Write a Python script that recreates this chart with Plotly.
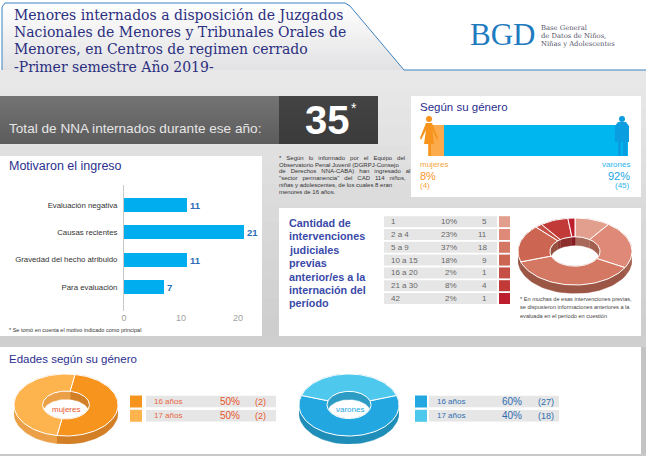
import math
import plotly.graph_objects as go

W, H = 646, 456

motivos = ["Evaluación negativa", "Causas recientes", "Gravedad del hecho atribuido", "Para evaluación"]
motivos_val = [11, 21, 11, 7]

genero_pct = [8, 92]
genero_n = [4, 45]

interv_rangos = ["1", "2 a 4", "5 a 9", "10 a 15", "16 a 20", "21 a 30", "42"]
interv_pct = [10, 23, 37, 18, 2, 8, 2]
interv_n = [5, 11, 18, 9, 1, 4, 1]
interv_col = ["#E39F8E", "#DF8A78", "#D47763", "#CC6653", "#C54F44", "#C23A38", "#BD1E2D"]
interv_wall = ["#A8685A", "#A3604F", "#9C5646", "#96503F", "#8F3E34", "#8C2F2C", "#861B24"]

edades = ["16 años", "17 años"]
muj_pct = [50, 50]
muj_n = [2, 2]
muj_col = ["#F7941E", "#FDB44E"]
muj_wall = ["#D27F26", "#EBA048"]
var_pct = [60, 40]
var_n = [27, 18]
var_col = ["#22A7E0", "#4FC8EE"]
var_wall = ["#1E8DB8", "#2C9CC4"]

NAVY = "#2B2F8F"
SANS = "Liberation Sans"
SERIF = "DejaVu Serif"


def px(x):
    return x / W


def py(y):
    return 1 - y / H


fig = go.Figure()
shapes = []
notes = []


def rect(x0, y0, x1, y1, color):
    shapes.append(dict(type="rect", xref="paper", yref="paper", x0=px(x0), x1=px(x1),
                       y0=py(y0), y1=py(y1), fillcolor=color, line_width=0, layer="below"))


def text(x, y, s, size, color, anchor="left", font=SANS):
    # annotations sit about 1.5px inside their anchor
    nudge = {"left": -1.5, "right": 1.5, "center": 0}[anchor]
    notes.append(dict(xref="paper", yref="paper", x=px(x + nudge), y=py(y), text=s, showarrow=False,
                      xanchor=anchor, yanchor="middle", borderpad=0,
                      font=dict(size=size, color=color, family=font)))


def gradient(xs, ys, top, bottom):
    # pixel polygon on the base axes, filled with a vertical gradient
    fig.add_trace(go.Scatter(x=xs, y=ys, mode="lines", fill="toself", hoverinfo="skip",
                             line=dict(color="rgba(0,0,0,0)", width=0),
                             fillgradient=dict(type="vertical", colorscale=[[0, bottom], [1, top]]),
                             xaxis="x", yaxis="y"))


def arc(a0, a1, r):
    n = max(2, int(abs(a1 - a0) / 3) + 1)
    pts = [a0 + (a1 - a0) * i / (n - 1) for i in range(n)]
    return [r * math.sin(math.radians(a)) for a in pts], [r * math.cos(math.radians(a)) for a in pts]


def donut(vals, cols, walls, ax, box, hole, depth, start=0):
    # box is the pixel extent of the top face, the axes keep radius 1 on both sides
    x0, y0, x1, y1 = box
    ry = (y1 - y0) / 2
    d = depth / ry
    xname, yname = "xaxis" + ax, "yaxis" + ax
    low = -1 - d
    fig.layout[xname] = dict(domain=[px(x0), px(x1)], range=[-1, 1], visible=False, fixedrange=True, anchor="y" + ax)
    fig.layout[yname] = dict(domain=[py(y1 + depth), py(y0)], range=[low, 1], visible=False, fixedrange=True, anchor="x" + ax)
    tot = sum(vals)
    angles = [start]
    for v in vals:
        angles.append(angles[-1] + v * 360 / tot)
    for i in range(len(vals)):
        for r in (1, hole):
            ox, oy = arc(angles[i], angles[i + 1], r)
            fig.add_trace(go.Scatter(x=ox + ox[::-1], y=oy + [v - d for v in oy[::-1]], mode="lines", fill="toself",
                                     fillcolor=walls[i], line=dict(color=walls[i], width=0.5), hoverinfo="skip",
                                     xaxis="x" + ax, yaxis="y" + ax, cliponaxis=False))
    for i in range(len(vals)):
        ox, oy = arc(angles[i], angles[i + 1], 1)
        ix, iy = arc(angles[i + 1], angles[i], hole)
        fig.add_trace(go.Scatter(x=ox + ix + ox[:1], y=oy + iy + oy[:1], mode="lines", fill="toself",
                                 fillcolor=cols[i], line=dict(color="white", width=1), hoverinfo="skip",
                                 xaxis="x" + ax, yaxis="y" + ax, cliponaxis=False))


# page background and panels, the grey darkens slowly towards the lower band
rect(0, 0, W, H, "#FFFFFF")
for i in range(14):
    g = 232 - i * 2
    rect(0, 70 + i * 19, W, 70 + (i + 1) * 19 + 1, f"rgb({g},{g},{g + 1})")
rect(0, 336, W, 347, "#CFCFCF")
rect(0, 347, 641, 454, "#FFFFFF")
rect(641, 347, W, H, "#C4C4C5")
rect(0, 454, W, H, "#C9C9CA")
rect(0, 156, 262, 336, "#FFFFFF")
rect(411, 96, 641, 197, "#FFFFFF")
rect(279, 208, 641, 336, "#FFFFFF")

# base pixel axes
fig.update_layout(
    xaxis=dict(domain=[0, 1], range=[0, W], visible=False, fixedrange=True),
    yaxis=dict(domain=[0, 1], range=[H, 0], visible=False, fixedrange=True),
)

# header tab and total band
gradient([2, 2, 5, 345, 350, 404, 2], [70, 7, 3, 3, 6, 70, 70], "#FFFFFF", "#E2E2E4")
fig.add_trace(go.Scatter(x=[2, 2, 5, 345, 350, 404, 646], y=[70, 7, 3, 3, 6, 70, 70], mode="lines", hoverinfo="skip",
                         line=dict(color="#3C82C0", width=1), xaxis="x", yaxis="y"))
gradient([0, 279, 279, 0], [96, 96, 144, 144], "#747474", "#5C5C5C")
gradient([279, 378, 378, 279], [96, 96, 144, 144], "#434343", "#3B3B3B")

for i, s in enumerate(["Menores internados a disposición de Juzgados",
                       "Nacionales de Menores y Tribunales Orales de",
                       "Menores, en Centros de regimen cerrado",
                       "-Primer semestre Año 2019-"]):
    text(14, 15 + i * 17.2, s, 14, "#2B2F7F", font=SERIF)

text(471, 35, "BGD", 31, "#1F7BC0", font="Liberation Serif")
for i, s in enumerate(["Base General", "de Datos de Niños,", "Niñas y Adolescentes"]):
    text(541, 27.5 + i * 8.4, s, 6.8, "#55556A", font=SERIF)

text(9, 128, "Total de NNA internados durante ese año:", 13.6, "#E6E6E6")
text(327, 120, "<b>35</b>", 40, "#FFFFFF", anchor="center")
text(351, 108, "*", 14, "#FFFFFF")

nota_lineas = ["* Según lo informado por el Equipo del",
               "Observatorio Penal Juvenil (DGRPJ-Consejo",
               "de Derechos NNA-CABA) han ingresado al",
               "\"sector permanencia\" del CAD 114 niños,",
               "niñas y adolescentes, de los cuales 8 eran",
               "menores de 16 años."]
# extra spaces per gap, the original column is justified
nota_extra = [2, 0, 2, 2, 0, 0]
for i, s in enumerate(nota_lineas):
    text(279, 157.7 + i * 6.8, s.replace(" ", " " + "&nbsp;" * nota_extra[i]), 6, "#333333")

# motivaron el ingreso
text(9, 166, "Motivaron el ingreso", 12.5, NAVY)
fig.add_trace(go.Bar(y=motivos, x=motivos_val, orientation="h", width=14 / 27.3, marker=dict(color="#00AEEF", line_width=0),
                     text=motivos_val, textposition="outside", cliponaxis=False,
                     textfont=dict(size=9.5, color="#2A6DB5", family=SANS + ", sans-serif", weight="bold"),
                     hoverinfo="skip", xaxis="x2", yaxis="y2"))
fig.update_layout(
    xaxis2=dict(domain=[px(124), px(244.8)], range=[0, 21.2], tickvals=[0, 10, 20], showgrid=False, zeroline=False,
                showline=False, ticks="", tickfont=dict(size=9, color="#A0A0A0", family=SANS), anchor="y2",
                fixedrange=True),
    yaxis2=dict(domain=[py(311), py(185)], range=[3.88, -0.73], showgrid=False, zeroline=False, showline=True,
                linecolor="#C8C8C8", linewidth=1, ticks="", tickfont=dict(size=7.8, color="#333333", family=SANS),
                anchor="x2", fixedrange=True, type="category", categoryorder="array", categoryarray=motivos,
                ticklabelstandoff=4),
)
text(9, 330, "* Se tomó en cuenta el motivo indicado como principal", 5.5, "#333333")

# genero
text(420, 107, "Según su género", 11.5, NAVY)
for v, c in zip(genero_pct, ["#FBAB4B", "#00B6EF"]):
    fig.add_trace(go.Bar(y=["g"], x=[v], orientation="h", width=1, marker=dict(color=c, line_width=0),
                         hoverinfo="skip", xaxis="x3", yaxis="y3"))
fig.update_layout(
    barmode="stack", bargap=0,
    xaxis3=dict(domain=[px(428), px(628)], range=[0, 100], visible=False, fixedrange=True, anchor="y3"),
    yaxis3=dict(domain=[py(156), py(125)], visible=False, fixedrange=True, anchor="x3"),
)


def path(points, color):
    d = "M" + " L".join(f"{px(x):.5f},{py(y):.5f}" for x, y in points) + " Z"
    shapes.append(dict(type="path", xref="paper", yref="paper", path=d, fillcolor=color, line_width=0, layer="above"))


def head(x, y, r, color):
    shapes.append(dict(type="circle", xref="paper", yref="paper", x0=px(x - r), x1=px(x + r), y0=py(y - r), y1=py(y + r),
                       fillcolor=color, line_width=0, layer="above"))


head(429, 119, 3, "#F7941E")
path([(426, 123), (432, 123), (438, 138), (437, 140), (432.5, 130), (434, 144), (431, 144), (431, 156),
      (429, 156), (429, 144), (424, 144), (426, 130), (421, 140), (420, 138)], "#F7941E")
head(622, 119, 3, "#0A9DDF")
path([(618, 122), (626, 122), (629, 126), (629, 142), (627, 142), (627, 156), (623, 156), (623, 142),
      (621, 142), (621, 156), (618, 156), (618, 142), (615, 142), (615, 126)], "#0A9DDF")

text(421, 164, "mujeres", 8, "#F7A33A")
text(421, 176, f"{genero_pct[0]}%", 11, "#F7941E")
text(421, 185, f"({genero_n[0]})", 8, "#F7A33A")
text(629, 164, "varones", 8, "#2AB4EC", anchor="right")
text(629, 176, f"{genero_pct[1]}%", 11, "#1CA5E3", anchor="right")
text(629, 185, f"({genero_n[1]})", 8, "#2AB4EC", anchor="right")

# intervenciones
for i, s in enumerate(["Cantidad de", "intervenciones", "judiciales", "previas", "anterior/es a la", "internación del", "período"]):
    text(289, 223 + i * 13.4, f"<b>{s}</b>", 10.8, "#3A4AA8")

for i in range(len(interv_rangos)):
    yc = 221.7 + i * 12.8
    rect(384, yc - 5.5, 497, yc + 5.5, "#E6E6E6")
    rect(499, yc - 5.5, 510, yc + 5.5, interv_col[i])
    text(391, yc, interv_rangos[i], 8, "#666666")
    text(456, yc, f"{interv_pct[i]}%", 8, "#666666", anchor="right")
    text(486, yc, str(interv_n[i]), 8, "#666666", anchor="right")
donut(interv_pct, interv_col, interv_wall, "4", (518, 218, 632, 285), 0.44, 8.5)
for i, s in enumerate(["* En muchas de esas intervenciones previas,",
                       "se dispusieron informaciones anteriores a la",
                       "evaluada en el período en cuestión"]):
    text(520.5, 299 + i * 8.3, s, 5.6, "#444444")

# edades
text(9, 359, "Edades según su género", 11.5, NAVY)
donut(muj_pct, muj_col, muj_wall, "5", (14, 374, 118, 436), 0.45, 8, start=10)
donut(var_pct, var_col, var_wall, "6", (299, 374, 399, 436), 0.44, 8, start=72)
text(66, 409, "mujeres", 8, "#E8562A", anchor="center")
text(350, 409, "varones", 8, "#22A7E0", anchor="center")

for i in range(2):
    yc = 401.5 + i * 14.3
    rect(130, yc - 6, 142, yc + 6, muj_col[i])
    rect(146, yc - 5.7, 276, yc + 5.7, "#E6E6E6")
    text(154, yc, edades[i], 8, "#E8663C")
    text(239, yc, f"{muj_pct[i]}%", 10, "#E8562A", anchor="right")
    text(265, yc, f"({muj_n[i]})", 9, "#E8562A", anchor="right")
    rect(415, yc - 6, 427, yc + 6, var_col[i])
    rect(429, yc - 5.7, 559, yc + 5.7, "#E6E6E6")
    text(437, yc, edades[i], 8, "#2F6DB0")
    text(521, yc, f"{var_pct[i]}%", 10, "#2F6DB0", anchor="right")
    text(553, yc, f"({var_n[i]})", 9, "#2F6DB0", anchor="right")

fig.update_layout(width=W, height=H, margin=dict(l=0, r=0, t=0, b=0, autoexpand=False), autosize=False, showlegend=False,
                  paper_bgcolor="white", plot_bgcolor="rgba(0,0,0,0)", shapes=shapes, annotations=notes,
                  font=dict(family=SANS))

fig.write_html("out.html", config={"displayModeBar": False},
               post_script="document.body.style.margin='0';document.body.style.overflow='hidden';")
